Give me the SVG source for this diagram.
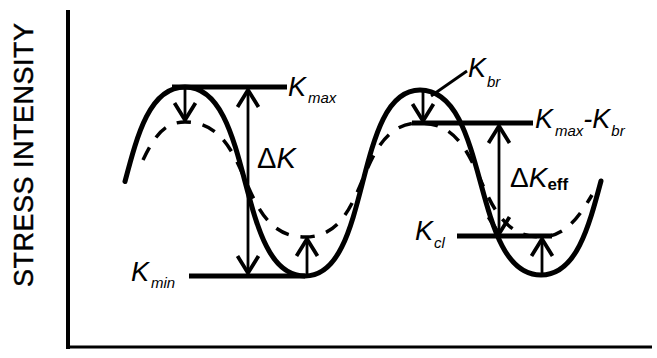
<svg xmlns="http://www.w3.org/2000/svg" width="657" height="358" viewBox="0 0 657 358">
  <style>
    .axis { stroke: #000; stroke-width: 4; fill: none; }
    .solid { stroke: #000; stroke-width: 5; fill: none; stroke-linecap: round; }
    .dashed { stroke: #000; stroke-width: 3.5; fill: none; stroke-dasharray: 14 12; }
    .level { stroke: #000; stroke-width: 5; fill: none; }
    .arrow { stroke: #000; stroke-width: 2.8; fill: none; }
    .lbl { font-family: "Liberation Sans", Arial, sans-serif; fill: #000; }
    .k { font-style: italic; font-size: 27px; }
    .sub { font-style: italic; font-size: 15px; }
  </style>
  <defs>
    <marker id="ah" viewBox="-20 -15 30 30" markerWidth="30" markerHeight="30" refX="0" refY="0" markerUnits="userSpaceOnUse" orient="auto-start-reverse">
      <path d="M-17,-10.5 L0,0 L-17,10.5" fill="none" stroke="#000" stroke-width="3.8" stroke-linejoin="round" stroke-linecap="butt"/>
    </marker>
  </defs>

  <g id="axes">
    <line class="axis" x1="68" y1="10" x2="68" y2="349"/>
    <line class="axis" x1="66" y1="347" x2="652" y2="347" style="stroke-width:3"/>
  </g>

  <g id="y-label">
    <text class="lbl" transform="translate(33,155) rotate(-90)" text-anchor="middle" font-size="27" stroke="#000" stroke-width="0.4" textLength="264" lengthAdjust="spacing">STRESS INTENSITY</text>
  </g>

  <g id="stress-curve">
    <path class="solid" d="M125,181.5 C137.5,134 150,87 185,87 C255,87 235,276 305,276 C372,276 353,90 420,90 C490.5,90 470.5,275 541,275 C576,275 588.5,228 601,181"/>
  </g>

  <g id="effective-curve">
    <path class="dashed" d="M143,160 C155,135 165,122 185,122 C255,122 235,237 305,237 C372,237 353,123 420,123 C490.5,123 470.5,237 541,237 C566,237 580,215 592,195"/>
  </g>

  <g id="levels">
    <line id="kmax-line" class="level" x1="172" y1="87" x2="287" y2="87"/>
    <line id="kmin-line" class="level" x1="189" y1="276" x2="305" y2="276"/>
    <line id="kmaxkbr-line" class="level" x1="412" y1="123" x2="533" y2="123"/>
    <line id="kcl-line" class="level" x1="457" y1="236" x2="552" y2="236"/>
  </g>

  <g id="connectors">
    <line class="arrow" x1="185" y1="89" x2="185" y2="120" marker-end="url(#ah)"/>
    <line class="arrow" x1="248" y1="90" x2="248" y2="273" marker-start="url(#ah)" marker-end="url(#ah)"/>
    <line class="arrow" x1="307" y1="274" x2="307" y2="239" marker-end="url(#ah)"/>
    <line class="arrow" x1="423" y1="92" x2="423" y2="121" marker-end="url(#ah)"/>
    <line class="arrow" x1="499" y1="126" x2="499" y2="234" marker-start="url(#ah)" marker-end="url(#ah)"/>
    <line class="arrow" x1="542" y1="273" x2="542" y2="239" marker-end="url(#ah)"/>
    <line class="arrow" x1="431" y1="96" x2="467" y2="71"/>
  </g>

  <g id="label-kmax">
    <text class="lbl k" x="288" y="96">K<tspan class="sub" dx="2" dy="7">max</tspan></text>
  </g>
  <g id="label-dk">
    <text class="lbl" x="257" y="168" font-size="29">Δ<tspan font-style="italic">K</tspan></text>
  </g>
  <g id="label-kmin">
    <text class="lbl k" x="131" y="281">K<tspan class="sub" dx="2" dy="7">min</tspan></text>
  </g>
  <g id="label-kbr">
    <text class="lbl k" x="468" y="77">K<tspan class="sub" dx="1" dy="10">br</tspan></text>
  </g>
  <g id="label-kmaxkbr">
    <text class="lbl k" x="535" y="128">K<tspan class="sub" dx="2" dy="8">max</tspan><tspan dy="-8">-K</tspan><tspan class="sub" dx="1" dy="8">br</tspan></text>
  </g>
  <g id="label-dkeff">
    <text class="lbl" x="510" y="187" font-size="28">Δ<tspan font-style="italic">K</tspan><tspan font-size="17" font-weight="bold" dy="3">eff</tspan></text>
  </g>
  <g id="label-kcl">
    <text class="lbl k" x="415" y="240">K<tspan class="sub" dx="1" dy="8">cl</tspan></text>
  </g>
</svg>
